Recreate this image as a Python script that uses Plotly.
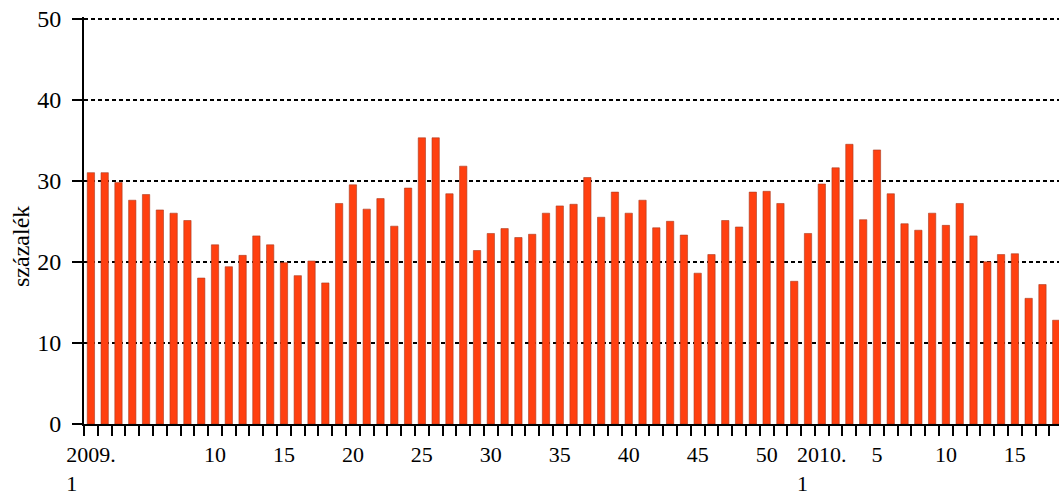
import plotly.graph_objects as go

# Week labels: 2009 weeks 1-53, 2010 weeks 1-18
years = ["2009"] * 53 + ["2010"] * 18
weeks = list(range(1, 54)) + list(range(1, 19))

values = [
    31.0, 31.0, 29.8, 27.6, 28.3, 26.4, 26.0, 25.1, 18.0, 22.1,
    19.4, 20.8, 23.2, 22.1, 19.9, 18.3, 20.1, 17.4, 27.2, 29.5,
    26.5, 27.8, 24.4, 29.1, 35.3, 35.3, 28.4, 31.8, 21.4, 23.5,
    24.1, 23.0, 23.4, 26.0, 26.9, 27.1, 30.4, 25.5, 28.6, 26.0,
    27.6, 24.2, 25.0, 23.3, 18.6, 20.9, 25.1, 24.3, 28.6, 28.7,
    27.2, 17.6, 23.5,
    29.6, 31.6, 34.5, 25.2, 33.8, 28.4, 24.7, 23.9, 26.0, 24.5,
    27.2, 23.2, 20.0, 20.9, 21.0, 15.5, 17.2, 12.8,
]

labelled_2009 = [1, 10, 15, 20, 25, 30, 35, 40, 45, 50]
labelled_2010 = [1, 5, 10, 15]

yticks = [0, 10, 20, 30, 40, 50]

NB = "\u00a0"
categories = [f"{y}/{w}" for y, w in zip(years, weeks)]
ticktext = []
for y, w in zip(years, weeks):
    labelled = labelled_2009 if y == "2009" else labelled_2010
    if w in labelled:
        if w == 1:
            ticktext.append(f"{y}.<br>1" + NB * 7)
        else:
            ticktext.append(str(w))
    else:
        ticktext.append("")

font_family = "Liberation Serif"

fig = go.Figure(
    go.Bar(
        x=categories,
        y=values,
        marker=dict(color="#FF4010", line=dict(color="#A83A20", width=0.6)),
        width=0.53,
    )
)

fig.update_layout(
    width=1059,
    height=493,
    margin=dict(l=84, r=0, t=17, b=69, autoexpand=False),
    plot_bgcolor="white",
    paper_bgcolor="white",
    showlegend=False,
    font=dict(family=font_family, size=22, color="black"),
    annotations=[
        dict(
            text="százalék",
            xref="paper",
            yref="paper",
            x=-0.0646,
            y=0.435,
            xanchor="center",
            yanchor="middle",
            textangle=-90,
            showarrow=False,
            font=dict(family=font_family, size=24, color="black"),
        )
    ],
)

fig.update_xaxes(
    type="category",
    categoryorder="array",
    categoryarray=categories,
    tickmode="array",
    tickvals=categories,
    ticktext=ticktext,
    tickangle=0,
    tickson="boundaries",
    ticks="outside",
    ticklen=10,
    tickwidth=2,
    tickcolor="black",
    ticklabelstandoff=10,
    showline=True,
    linecolor="black",
    linewidth=2,
    showgrid=False,
    automargin=False,
    range=[-0.5, 70.2],
    tickfont=dict(family=font_family, size=22, color="black"),
)

fig.update_yaxes(
    range=[0, 50.2],
    tickmode="array",
    tickvals=yticks,
    ticks="outside",
    ticklen=10,
    tickwidth=2,
    tickcolor="black",
    ticklabelstandoff=6,
    ticklabeloverflow="allow",
    showline=True,
    linecolor="black",
    linewidth=2,
    showgrid=True,
    gridcolor="black",
    gridwidth=2,
    griddash="4px,3px",
    zeroline=False,
    automargin=False,
    tickfont=dict(family=font_family, size=24, color="black"),
)

fig.write_html(
    "out.html",
    config={"displayModeBar": False},
    post_script="document.body.style.margin='0';document.body.style.overflow='hidden';",
)
